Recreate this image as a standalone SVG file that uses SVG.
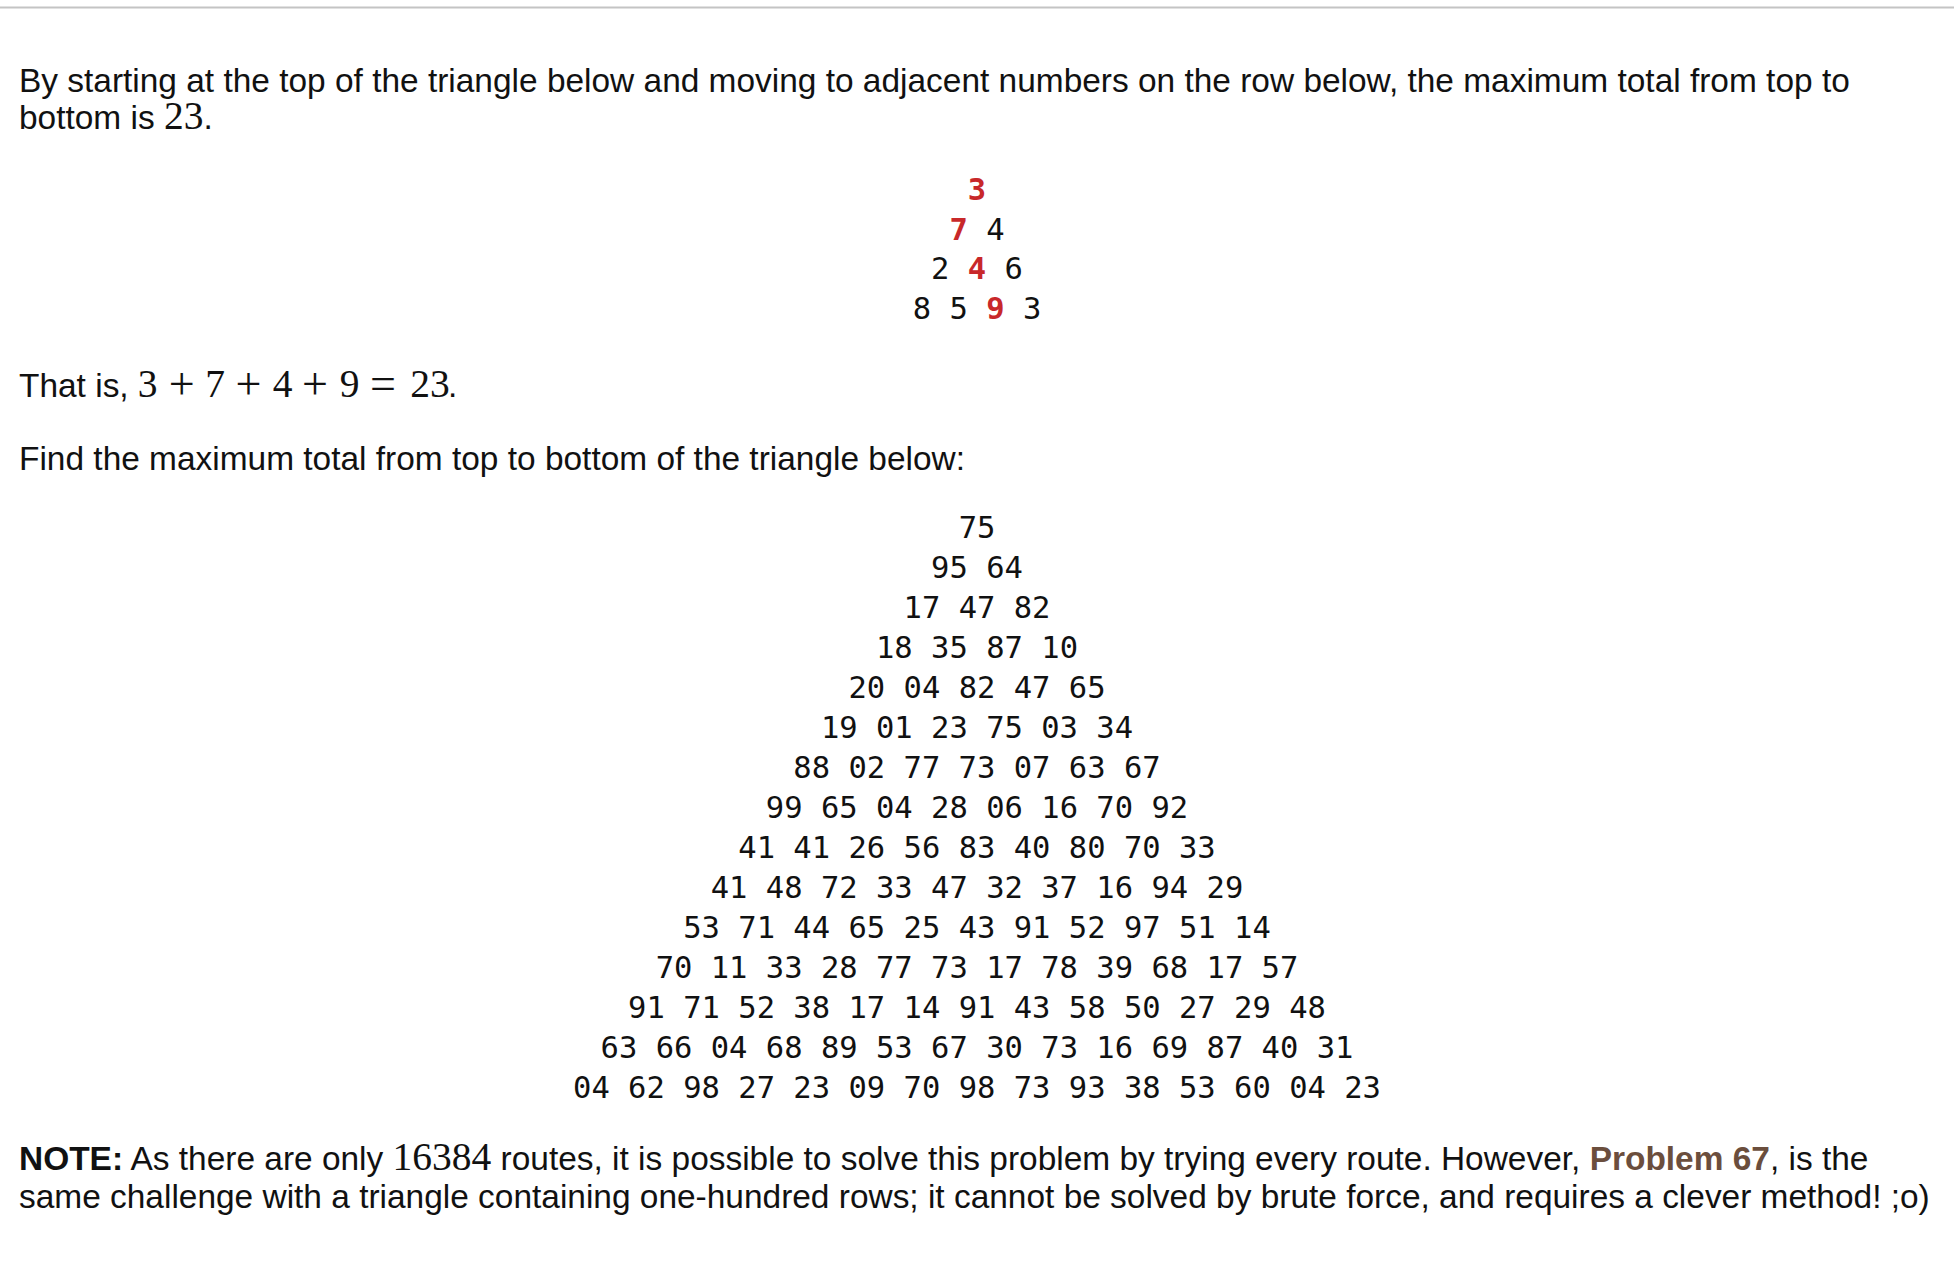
<svg xmlns="http://www.w3.org/2000/svg" width="1954" height="1264" viewBox="0 0 1954 1264">
<style>
.t{font-family:"Liberation Sans",Arial,sans-serif;font-size:33.45px;fill:#111}
.m{font-family:"Liberation Serif","Times New Roman",serif;font-size:39.5px;fill:#111}
.mm{font-family:"Liberation Serif","Times New Roman",serif;font-size:39.5px;fill:#111;text-anchor:middle}
.op{font-family:"Liberation Serif","Times New Roman",serif;font-size:46px;fill:#111;text-anchor:middle}
.mono{font-family:"DejaVu Sans Mono",monospace;font-size:30.5px;fill:#111;text-anchor:middle}
.hl{font-weight:bold;fill:#c8282a}
.b{font-weight:bold}
.lnk{font-weight:bold;fill:#6b4e3d}
</style>
<rect width="1954" height="1264" fill="#fff"/>
<line x1="0" y1="7.5" x2="1954" y2="7.5" stroke="#c4c4c4" stroke-width="2"/>
<g id="intro">
<text class="t" x="19" y="92">By starting at the top of the triangle below and moving to adjacent numbers on the row below, the maximum total from top to</text>
<text class="t" x="19" y="129">bottom is <tspan class="m">23</tspan>.</text>
</g>
<g id="small-triangle">
<text class="mono" x="977" y="200"><tspan class="hl">3</tspan></text>
<text class="mono" x="977" y="239.5"><tspan class="hl">7</tspan> 4</text>
<text class="mono" x="977" y="279">2 <tspan class="hl">4</tspan> 6</text>
<text class="mono" x="977" y="318.5">8 5 <tspan class="hl">9</tspan> 3</text>
</g>
<g id="that-is">
<text class="t" x="19" y="397">That is,</text>
<text class="mm" x="147.5" y="397">3</text>
<text class="op" x="181.7" y="398.5">+</text>
<text class="mm" x="215" y="397">7</text>
<text class="op" x="248.5" y="398.5">+</text>
<text class="mm" x="282.5" y="397">4</text>
<text class="op" x="315" y="398.5">+</text>
<text class="mm" x="349.5" y="397">9</text>
<text class="op" x="383" y="398.5">=</text>
<text class="mm" x="430" y="397">23</text>
<text class="t" x="448" y="397">.</text>
</g>
<g id="find">
<text class="t" x="19" y="470">Find the maximum total from top to bottom of the triangle below:</text>
</g>
<g id="big-triangle">
<text class="mono" x="977" y="537.5">75</text>
<text class="mono" x="977" y="577.5">95 64</text>
<text class="mono" x="977" y="617.5">17 47 82</text>
<text class="mono" x="977" y="657.5">18 35 87 10</text>
<text class="mono" x="977" y="697.5">20 04 82 47 65</text>
<text class="mono" x="977" y="737.5">19 01 23 75 03 34</text>
<text class="mono" x="977" y="777.5">88 02 77 73 07 63 67</text>
<text class="mono" x="977" y="817.5">99 65 04 28 06 16 70 92</text>
<text class="mono" x="977" y="857.5">41 41 26 56 83 40 80 70 33</text>
<text class="mono" x="977" y="897.5">41 48 72 33 47 32 37 16 94 29</text>
<text class="mono" x="977" y="937.5">53 71 44 65 25 43 91 52 97 51 14</text>
<text class="mono" x="977" y="977.5">70 11 33 28 77 73 17 78 39 68 17 57</text>
<text class="mono" x="977" y="1017.5">91 71 52 38 17 14 91 43 58 50 27 29 48</text>
<text class="mono" x="977" y="1057.5">63 66 04 68 89 53 67 30 73 16 69 87 40 31</text>
<text class="mono" x="977" y="1097.5">04 62 98 27 23 09 70 98 73 93 38 53 60 04 23</text>
</g>
<g id="note">
<text class="t" x="19" y="1170"><tspan class="b">NOTE:</tspan> As there are only <tspan class="m">16384</tspan> routes, it is possible to solve this problem by trying every route. However, <tspan class="lnk">Problem 67</tspan>, is the</text>
<text class="t" x="19" y="1208">same challenge with a triangle containing one-hundred rows; it cannot be solved by brute force, and requires a clever method! ;o)</text>
</g>
</svg>
